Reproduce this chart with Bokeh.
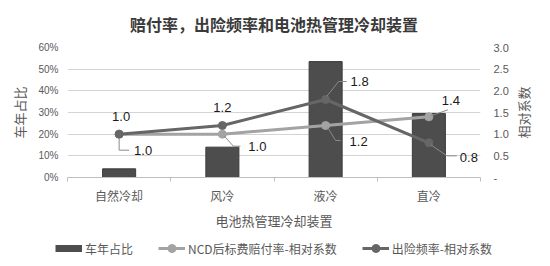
import math
import numpy as np
from bokeh.plotting import figure
from bokeh.layouts import column, row
from bokeh.models import (Range1d, LinearAxis, FixedTicker, NumeralTickFormatter,
                          CustomJSTickFormatter, Legend, LegendItem)
from bokeh.core.properties import value
from bokeh.embed import file_html
from bokeh.resources import INLINE

# ---------------- data ----------------
categories = ["自然冷却", "风冷", "液冷", "直冷"]
vehicle_share = [0.04, 0.14, 0.535, 0.295]      # 车年占比 (left axis)
ncd_ratio = [1.0, 1.0, 1.2, 1.4]                # NCD后标费赔付率-相对系数
freq_ratio = [1.0, 1.2, 1.8, 0.8]               # 出险频率-相对系数
left_ticks = [0.0, 0.1, 0.2, 0.3, 0.4, 0.5, 0.6]
right_ticks = [0.0, 0.5, 1.0, 1.5, 2.0, 2.5, 3.0]

title_text = "赔付率，出险频率和电池热管理冷却装置"
x_title = "电池热管理冷却装置"
left_title = "车年占比"
right_title = "相对系数"
legend_labels = ["车年占比", "NCD后标费赔付率-相对系数", "出险频率-相对系数"]

# ---------------- style ----------------
CJK = "Noto Sans CJK SC"
NUM = "Liberation Sans"
BAR = "#4d4d4d"
NCD_C = "#a3a3a3"
FREQ_C = "#666666"
TXT = "#595959"

WT = 550                 # total width
W, H, HL = 512, 232, 34  # main chart, legend strip height
WR = WT - W              # strip holding the right axis title
BL, BR, BT, BB = 67, 32, 47, 55

n = len(categories)
xs = np.arange(n) + 0.5

p = figure(width=W, height=H, output_backend="svg", toolbar_location=None,
           x_range=Range1d(0, n), y_range=Range1d(left_ticks[0], left_ticks[-1]),
           min_border_left=BL, min_border_right=BR, min_border_top=BT, min_border_bottom=BB,
           outline_line_color=None)
p.frame_align = False
p.extra_y_ranges = {"r": Range1d(right_ticks[0], right_ticks[-1])}

px_x = (W - BL - BR) / n
px_y = (H - BT - BB) / (right_ticks[-1] - right_ticks[0])

# title
p.title.text = title_text
p.title.align = "center"
p.title.vertical_align = "top"
p.title.text_font = CJK
p.title.text_font_size = "16px"
p.title.text_font_style = "bold"
p.title.text_color = "#3a3a3a"
p.title.standoff = 20

# grids
p.xgrid.grid_line_color = None
p.ygrid.ticker = FixedTicker(ticks=left_ticks)
p.ygrid.grid_line_color = "#d4d4d4"
p.ygrid.grid_line_width = 1

# x axis
xa = p.xaxis[0]
xa.ticker = FixedTicker(ticks=list(xs), minor_ticks=list(range(n + 1)))
xa.major_label_overrides = {float(x): c for x, c in zip(xs, categories)}
xa.major_tick_line_color = None
xa.major_tick_out = 4
xa.major_tick_in = 0
xa.minor_tick_out = 4
xa.minor_tick_in = 0
xa.minor_tick_line_color = "#bfbfbf"
xa.axis_line_color = "#bfbfbf"
xa.major_label_text_font = CJK
xa.major_label_text_font_size = "12px"
xa.major_label_text_color = TXT
xa.major_label_standoff = 5
xa.axis_label = x_title
xa.axis_label_text_font = CJK
xa.axis_label_text_font_size = "13px"
xa.axis_label_text_font_style = "normal"
xa.axis_label_text_color = TXT
xa.axis_label_standoff = 4

# left axis
ya = p.yaxis[0]
ya.ticker = FixedTicker(ticks=left_ticks)
ya.formatter = NumeralTickFormatter(format="0%")
ya.axis_line_color = None
ya.major_tick_line_color = None
ya.minor_tick_line_color = None
ya.major_tick_out = 0
ya.major_label_standoff = 9
ya.major_label_text_font = NUM
ya.major_label_text_font_size = "10px"
ya.major_label_text_color = TXT
ya.axis_label = left_title
ya.axis_label_text_font = CJK
ya.axis_label_text_font_size = "13px"
ya.axis_label_text_font_style = "normal"
ya.axis_label_text_color = TXT
ya.axis_label_standoff = 6

# right axis (its title is drawn in the narrow strip to the right)
ra = LinearAxis(y_range_name="r", ticker=FixedTicker(ticks=right_ticks),
                formatter=CustomJSTickFormatter(code="return tick == 0 ? '-' : tick.toFixed(1);"))
ra.axis_line_color = None
ra.major_tick_line_color = None
ra.minor_tick_line_color = None
ra.major_tick_out = 0
ra.major_label_standoff = 13
ra.major_label_text_font = NUM
ra.major_label_text_font_size = "11px"
ra.major_label_text_color = TXT
p.add_layout(ra, "right")

# bars
bars = p.vbar(x=xs, top=vehicle_share, width=0.32, fill_color=BAR, line_color="#3c3c3c", line_width=1)

# lines
ncd_line = p.line(xs, ncd_ratio, y_range_name="r", line_width=3, line_color=NCD_C)
ncd_pts = p.scatter(xs, ncd_ratio, y_range_name="r", size=8, fill_color=NCD_C, line_color=NCD_C)
freq_line = p.line(xs, freq_ratio, y_range_name="r", line_width=3, line_color=FREQ_C)
freq_pts = p.scatter(xs, freq_ratio, y_range_name="r", size=8, fill_color=FREQ_C, line_color=FREQ_C)

# data labels (pixel offsets: +x right, +y down)
freq_off = [(2, -18), (0, -18), (34, -18), (40, 15)]
ncd_off = [(24, 16), (35, 12), (33, 16), (22, -16)]
freq_lead = [None, None, [(1, -3), (13, -18), (21, -18)], [(2, 2), (18, 13), (28, 13)]]
ncd_lead = [[(0, 4), (0, 16), (10, 16)], [(2, 2), (11, 12), (18, 12)],
            [(2, 2), (10, 15), (15, 15)], [(2, -1), (19, -7)]]

lead_xs, lead_ys = [], []
for vals, leads in ((freq_ratio, freq_lead), (ncd_ratio, ncd_lead)):
    for x0, v, path in zip(xs, vals, leads):
        if path is None:
            continue
        lead_xs.append([x0 + dx / px_x for dx, dy in path])
        lead_ys.append([v - dy / px_y for dx, dy in path])
p.multi_line(lead_xs, lead_ys, y_range_name="r", line_color="#8a8a8a", line_width=1)

for vals, offs in ((freq_ratio, freq_off), (ncd_ratio, ncd_off)):
    lx = [x0 + dx / px_x for x0, (dx, dy) in zip(xs, offs)]
    ly = [v - dy / px_y for v, (dx, dy) in zip(vals, offs)]
    p.text(lx, ly, text=[f"{v:.1f}" for v in vals], y_range_name="r",
           text_font=value(NUM), text_font_size="13px", text_color="#1a1a1a",
           text_align="center", text_baseline="middle")

# narrow strip with the right-axis title (pixel coordinates, reads bottom to top)
rt = figure(width=WR, height=H, output_backend="svg", toolbar_location=None, title=None,
            x_range=Range1d(0, WR), y_range=Range1d(0, H), outline_line_color=None,
            min_border_left=0, min_border_right=0, min_border_top=0, min_border_bottom=0)
rt.frame_align = False
rt.axis.visible = False
rt.grid.visible = False
frame_mid = H - (BT + (H - BT - BB) / 2)
rt.text([11], [frame_mid], text=[right_title], angle=math.pi / 2,
        text_font=value(CJK), text_font_size="13px", text_color=TXT,
        text_align="center", text_baseline="middle")

# legend strip (separate figure below the chart); swatch renderers sit outside its range
lg = figure(width=WT, height=HL, output_backend="svg", toolbar_location=None, title=None,
            x_range=Range1d(0, 1), y_range=Range1d(0, 1), outline_line_color=None,
            min_border_left=0, min_border_right=0, min_border_top=0, min_border_bottom=0)
lg.frame_align = False
lg.axis.visible = False
lg.grid.visible = False
off = [-5.0, -4.0]
sw_bar = lg.line(off, off, line_width=7, line_color=BAR)
sw_ncd_l = lg.line(off, off, line_width=3, line_color=NCD_C)
sw_ncd_p = lg.scatter(off, off, size=8, fill_color=NCD_C, line_color=NCD_C)
sw_freq_l = lg.line(off, off, line_width=3, line_color=FREQ_C)
sw_freq_p = lg.scatter(off, off, size=8, fill_color=FREQ_C, line_color=FREQ_C)
# location = bottom-left corner of the legend, measured from the strip's bottom-left
legend = Legend(items=[LegendItem(label=legend_labels[0], renderers=[sw_bar]),
                       LegendItem(label=legend_labels[1], renderers=[sw_ncd_l, sw_ncd_p]),
                       LegendItem(label=legend_labels[2], renderers=[sw_freq_l, sw_freq_p])],
                orientation="horizontal", location=(55, 8),
                label_text_font=CJK, label_text_font_size="12px", label_text_color=TXT,
                glyph_width=27, glyph_height=20, label_standoff=3, spacing=25,
                border_line_color=None, background_fill_alpha=0, padding=0, margin=0)
lg.add_layout(legend, "center")

layout = column(row(p, rt, spacing=0), lg, spacing=0)
open("out.html", "w").write(file_html(layout, INLINE))
